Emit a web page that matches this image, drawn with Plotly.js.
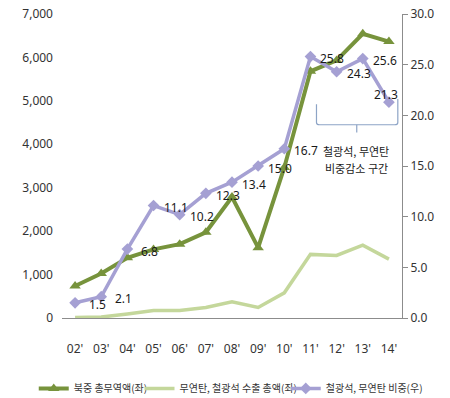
<!DOCTYPE html>
<html>
<head>
<meta charset="utf-8">
<script src="https://cdn.plot.ly/plotly-3.0.1.min.js"></script>
<style>
  html, body { margin: 0; padding: 0; background: #fff; }
  #chart { width: 450px; height: 398px; }
</style>
</head>
<body>
<div id="chart"></div>
<script>
// 연도 (2002~2014)
const years = ["02'", "03'", "04'", "05'", "06'", "07'", "08'", "09'", "10'", "11'", "12'", "13'", "14'"];
// 북중 총무역액 (백만 달러, 좌축)
const totalTrade = [738, 1023, 1385, 1580, 1700, 1974, 2787, 1620, 3466, 5680, 5931, 6545, 6364];
// 무연탄·철광석 수출 총액 (백만 달러, 좌축)
const coalIronExports = [11, 21, 94, 175, 173, 243, 373, 243, 579, 1465, 1441, 1676, 1356];
// 철광석·무연탄 비중 (%, 우축)
const coalIronShare = [1.5, 2.1, 6.8, 11.1, 10.2, 12.3, 13.4, 15.0, 16.7, 25.8, 24.3, 25.6, 21.3];

const numFont = "Noto Sans, sans-serif";
const korFont = "Noto Sans CJK KR, sans-serif";

const traces = [
  {
    x: years, y: totalTrade, name: '북중 총무역액(좌)', type: 'scatter', mode: 'lines+markers',
    line: { color: '#77933C', width: 4 },
    marker: { symbol: 'triangle-up', size: 10, color: '#77933C' },
    yaxis: 'y', legend: 'legend'
  },
  {
    x: years, y: coalIronExports, name: '무연탄, 철광석 수출 총액(좌)', type: 'scatter', mode: 'lines',
    line: { color: '#C4D79B', width: 3.5 },
    yaxis: 'y', legend: 'legend2'
  },
  {
    x: years, y: coalIronShare, name: '철광석, 무연탄 비중(우)', type: 'scatter', mode: 'lines+markers',
    line: { color: '#A5A0D3', width: 3.5 },
    marker: { symbol: 'diamond', size: 9, color: '#A5A0D3' },
    yaxis: 'y2', legend: 'legend3'
  }
];

// 비중 값 레이블 (점의 오른쪽 아래)
const annotations = coalIronShare.map((v, i) => {
  const last = i === coalIronShare.length - 1;
  return {
    x: years[i], y: v, xref: 'x', yref: 'y2',
    text: v.toFixed(1), showarrow: false,
    xanchor: 'center', yanchor: 'middle',
    xshift: last ? -3 : 22, yshift: last ? 8 : -2,
    font: { family: numFont, size: 12, color: '#1a1a1a' }
  };
});

// 감소 구간 설명 (두 줄)
['철광석, 무연탄', '비중감소 구간'].forEach((t, k) => {
  annotations.push({
    xref: 'paper', yref: 'paper', x: 0.865, y: k === 0 ? 0.548 : 0.493,
    xanchor: 'center', yanchor: 'middle',
    text: t, showarrow: false,
    font: { family: korFont, size: 11, color: '#1a1a1a' }
  });
});

// 감소 구간 괄호
const bracketColor = '#8DA4C6';
const shapes = [
  {
    type: 'path', xref: 'x', yref: 'y2',
    path: 'M 9.23,21.1 L 9.23,19.3 Q 9.23,19.07 9.35,19.07 L 12.22,19.07 Q 12.34,19.07 12.34,19.3 L 12.34,21.6',
    line: { color: bracketColor, width: 1.2 }
  },
  {
    type: 'line', xref: 'x', yref: 'y2',
    x0: 10.77, x1: 10.77, y0: 19.07, y1: 18.3,
    line: { color: bracketColor, width: 1.2 }
  }
];

const legendBase = {
  orientation: 'h', xref: 'container', yref: 'container',
  xanchor: 'left', y: 0.024, yanchor: 'middle',
  font: { family: korFont, size: 10, color: '#333' },
  itemwidth: 30, bgcolor: 'rgba(0,0,0,0)'
};

const layout = {
  width: 450, height: 398,
  margin: { l: 62, r: 48, t: 14, b: 80 },
  paper_bgcolor: '#fff', plot_bgcolor: '#fff',
  showlegend: true,
  legend: Object.assign({}, legendBase, { x: 0.075 }),
  legend2: Object.assign({}, legendBase, { x: 0.31 }),
  legend3: Object.assign({}, legendBase, { x: 0.635 }),
  xaxis: {
    type: 'category', range: [-0.5, years.length - 0.5],
    showgrid: false, zeroline: false, automargin: false,
    showline: true, linecolor: '#8c8c8c', linewidth: 1,
    ticks: '', ticklabelstandoff: 20,
    tickfont: { family: numFont, size: 12, color: '#333' }
  },
  yaxis: {
    range: [0, 7000], dtick: 1000, tickformat: ',d', automargin: false,
    showgrid: false, zeroline: false, showline: false, ticks: '',
    ticklabelstandoff: 8,
    tickfont: { family: numFont, size: 12, color: '#333' }
  },
  yaxis2: {
    overlaying: 'y', side: 'right', automargin: false,
    range: [0, 30], dtick: 5, tickformat: '.1f',
    showgrid: false, zeroline: false,
    showline: true, linecolor: '#8c8c8c', linewidth: 1,
    ticks: 'outside', ticklen: 5, tickcolor: '#8c8c8c',
    tickfont: { family: numFont, size: 12, color: '#333' }
  },
  annotations: annotations,
  shapes: shapes
};

Plotly.newPlot('chart', traces, layout, { displayModeBar: false, staticPlot: true });
</script>
</body>
</html>
